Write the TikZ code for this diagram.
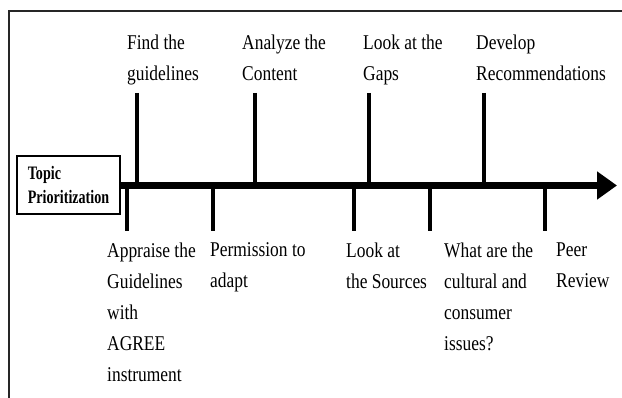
\documentclass[tikz,border=0pt]{standalone}
\usepackage{fontspec}
\setmainfont{Liberation Serif}[FakeStretch=0.83]
\newfontfamily\cajafont{Liberation Serif}[FakeStretch=0.74]
\usetikzlibrary{arrows.meta}
\tikzset{
  texto/.style={anchor=north west, align=left, inner sep=0pt,
    font=\fontsize{21}{31}\selectfont},
  caja/.style={draw, line width=2pt, anchor=north west, align=left,
    minimum width=103pt, minimum height=58pt, inner xsep=8pt,
    font=\cajafont\bfseries\fontsize{19}{24}\selectfont},
  marca/.style={line width=3.5pt},
  eje/.style={line width=7pt, -{Triangle[length=20pt,width=27pt]}}
}

\begin{document}
\begin{tikzpicture}[x=1pt, y=-1pt] % 1 px = 1 pt, y hacia abajo
    \useasboundingbox (0,0) rectangle (622,398);
    \draw[line width=1.5pt, black!85] (9,398) -- (9,11) -- (622,11); % Marco
    % Caja inicial y eje
    \node[caja] (topic) at (16,155) {Topic\\Prioritization};
    \coordinate (fin) at (617,185.5);
    \draw[eje] (topic.east |- fin) -- (fin);
    % Etapas arriba del eje
    \node[texto] (find) at (127,34.5) {Find the\\guidelines};
    \node[texto] (analyze) at (242,34.5) {Analyze the\\Content};
    \node[texto] (gaps) at (363,34.5) {Look at the\\Gaps};
    \node[texto] (develop) at (476,34.5) {Develop\\Recommendations};
    % Etapas debajo del eje
    \node[texto] (appraise) at (107,242.5) {Appraise the\\Guidelines\\with\\AGREE\\instrument};
    \node[texto] (permission) at (210,242.5) {Permission to\\adapt};
    \node[texto] (sources) at (346,242.5) {Look at\\the Sources};
    \node[texto] (cultural) at (444,242.5) {What are the\\cultural and\\consumer\\issues?};
    \node[texto] (peer) at (556,242.5) {Peer\\Review};
    % Marcas hacia el eje
    \coordinate (mfind) at (137,93);
    \coordinate (manalyze) at (255,93);
    \coordinate (mgaps) at (369,93);
    \coordinate (mdevelop) at (484,93);
    \coordinate (mappraise) at (127,231);
    \coordinate (mpermission) at (213,231);
    \coordinate (msources) at (354,231);
    \coordinate (mcultural) at (430,231);
    \coordinate (mpeer) at (545,231);
    \draw[marca] (mfind) -- (mfind |- fin);
    \draw[marca] (manalyze) -- (manalyze |- fin);
    \draw[marca] (mgaps) -- (mgaps |- fin);
    \draw[marca] (mdevelop) -- (mdevelop |- fin);
    \draw[marca] (mappraise) -- (mappraise |- fin);
    \draw[marca] (mpermission) -- (mpermission |- fin);
    \draw[marca] (msources) -- (msources |- fin);
    \draw[marca] (mcultural) -- (mcultural |- fin);
    \draw[marca] (mpeer) -- (mpeer |- fin);
\end{tikzpicture}
\end{document}
